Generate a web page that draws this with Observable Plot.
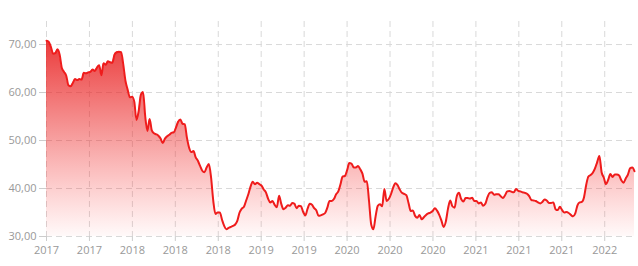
<!DOCTYPE html>
<html>
<head>
<meta charset="utf-8">
<script src="https://cdn.jsdelivr.net/npm/d3@7"></script>
<script src="https://cdn.jsdelivr.net/npm/@observablehq/plot@0.6"></script>
<style>
  html, body { margin: 0; padding: 0; background: #fff; }
  #chart svg { display: block; }
</style>
</head>
<body>
<div id="chart"></div>
<script>
// Weekly series, starting date
const startDate = "2017-06-08";
const prices = [
  70.8, 70.6, 69.5, 68.1, 68.2, 69.0, 67.9, 65.1, 64.3, 63.5,
  61.5, 61.3, 62.0, 62.8, 62.6, 62.8, 62.7, 64.1, 64.0, 64.2,
  64.3, 64.8, 64.5, 65.2, 65.7, 63.6, 66.1, 65.8, 66.5, 66.3,
  66.2, 67.9, 68.4, 68.5, 68.4, 65.8, 62.4, 60.6, 59.0, 59.1,
  58.1, 54.3, 56.1, 59.5, 60.1, 55.0, 52.0, 54.5, 52.1, 51.5,
  51.3, 51.0, 50.4, 49.5, 50.4, 50.9, 51.2, 51.6, 51.7, 52.7,
  53.9, 54.4, 53.5, 53.4, 50.6, 48.5, 47.6, 47.8, 46.5, 45.8,
  44.7, 43.7, 43.4, 44.4, 45.1, 42.3, 37.5, 34.7, 35.0, 35.0,
  33.5, 32.2, 31.5, 31.8, 32.0, 32.2, 32.5, 33.3, 35.0, 35.8,
  36.2, 37.5, 38.8, 40.4, 41.4, 40.9, 41.2, 40.9, 40.6, 39.8,
  39.2, 37.9, 37.1, 37.4, 36.6, 36.1, 38.5, 36.8, 35.7, 36.0,
  36.5, 36.4, 37.0, 36.8, 35.9, 36.4, 36.3, 35.1, 34.4, 35.8,
  36.8, 36.6, 35.9, 35.4, 34.3, 34.4, 34.6, 34.9, 36.0, 37.4,
  37.4, 37.8, 38.8, 39.4, 40.9, 42.5, 42.6, 43.8, 45.3, 45.2,
  44.4, 44.4, 44.7, 44.0, 43.1, 41.4, 41.5, 37.4, 32.5, 31.5,
  34.2, 36.4, 36.7, 36.3, 39.9, 37.4, 37.8, 38.8, 40.2, 41.1,
  40.7, 39.8, 39.1, 38.9, 38.6, 37.0, 35.3, 35.4, 34.3, 33.9,
  34.5, 33.6, 34.0, 34.5, 34.8, 35.0, 35.3, 35.9, 35.4, 34.5,
  33.3, 32.0, 33.1, 35.8, 37.5, 36.3, 36.0, 38.4, 39.1, 37.8,
  37.3, 38.0, 38.0, 37.9, 38.1, 37.4, 37.4, 36.9, 37.1, 36.4,
  36.8, 38.2, 39.1, 39.2, 38.7, 38.8, 38.8, 38.4, 38.0, 38.6,
  39.4, 39.5, 39.3, 39.2, 39.9, 39.5, 39.4, 39.2, 39.1, 38.9,
  38.4, 37.6, 37.5, 37.4, 37.1, 36.9, 37.2, 37.7, 37.5, 37.0,
  37.0, 37.1, 35.7, 35.5, 36.2, 35.5, 35.0, 35.1, 34.9, 34.5,
  34.2, 34.8, 36.5, 37.1, 37.2, 38.2, 40.8, 42.5, 42.8, 43.3,
  44.2, 45.5, 46.8, 43.4, 42.3, 40.9, 41.8, 43.0, 42.4, 42.9,
  42.9, 42.7, 41.7, 41.2, 42.1, 42.9, 44.2, 44.4, 43.6
];
const xTickDates = [
  "2017-06-08", "2017-10-23", "2018-03-09", "2018-07-24", "2018-12-08",
  "2019-04-24", "2019-09-08", "2020-01-23", "2020-06-08", "2020-10-23",
  "2021-03-09", "2021-07-24", "2021-12-08", "2022-04-24"
];
const yTicks = [30, 40, 50, 60, 70];
const yDomain = [30, 74.8];

const start = new Date(startDate + "T00:00:00Z");
const data = prices.map((v, i) => ({ date: d3.utcDay.offset(start, 7 * i), value: v }));
const xDomain = [data[0].date, data[data.length - 1].date];
const xTicks = xTickDates.map(s => new Date(s + "T00:00:00Z"));

const lineColor = "#ef1c1c";
const fmtY = v => v.toFixed(2).replace(".", ",");

const gradientDefs = (index, scales, values, dims) => {
  const ns = "http://www.w3.org/2000/svg";
  const defs = document.createElementNS(ns, "defs");
  const top = scales.y(d3.max(prices));
  const bottom = scales.y(yDomain[0]);
  defs.innerHTML =
    `<linearGradient id="areaGrad" gradientUnits="userSpaceOnUse" x1="0" y1="${top}" x2="0" y2="${bottom}">
       <stop offset="0%" stop-color="rgb(232,32,32)" stop-opacity="0.88"/>
       <stop offset="50%" stop-color="rgb(236,40,40)" stop-opacity="0.45"/>
       <stop offset="100%" stop-color="rgb(255,60,60)" stop-opacity="0.03"/>
     </linearGradient>`;
  return defs;
};

const chart = Plot.plot({
  width: 638,
  height: 266,
  marginLeft: 46,
  marginRight: 4,
  marginTop: 21,
  marginBottom: 30,
  style: { fontFamily: "'Open Sans', sans-serif", fontSize: "11px", background: "#fff" },
  x: { type: "utc", domain: xDomain },
  y: { domain: yDomain },
  marks: [
    gradientDefs,
    Plot.gridY(yTicks, { stroke: "#d9d9d9", strokeOpacity: 1, strokeDasharray: "6,4" }),
    Plot.gridX(xTicks, { stroke: "#d9d9d9", strokeOpacity: 1, strokeDasharray: "6,4" }),
    Plot.areaY(data, { x: "date", y1: yDomain[0], y2: "value", fill: "url(#areaGrad)", curve: "monotone-x" }),
    Plot.lineY(data, { x: "date", y: "value", stroke: lineColor, strokeWidth: 2, curve: "monotone-x" }),
    Plot.axisY(yTicks, { tickSize: 7, tickPadding: 3, tickFormat: fmtY, stroke: "#cccccc", color: "#999999", label: null }),
    Plot.axisX(xTicks, { tickSize: 5, tickPadding: 5, tickFormat: d3.utcFormat("%Y"), stroke: "#cccccc", color: "#999999", label: null })
  ]
});
document.getElementById("chart").appendChild(chart);
</script>
</body>
</html>
